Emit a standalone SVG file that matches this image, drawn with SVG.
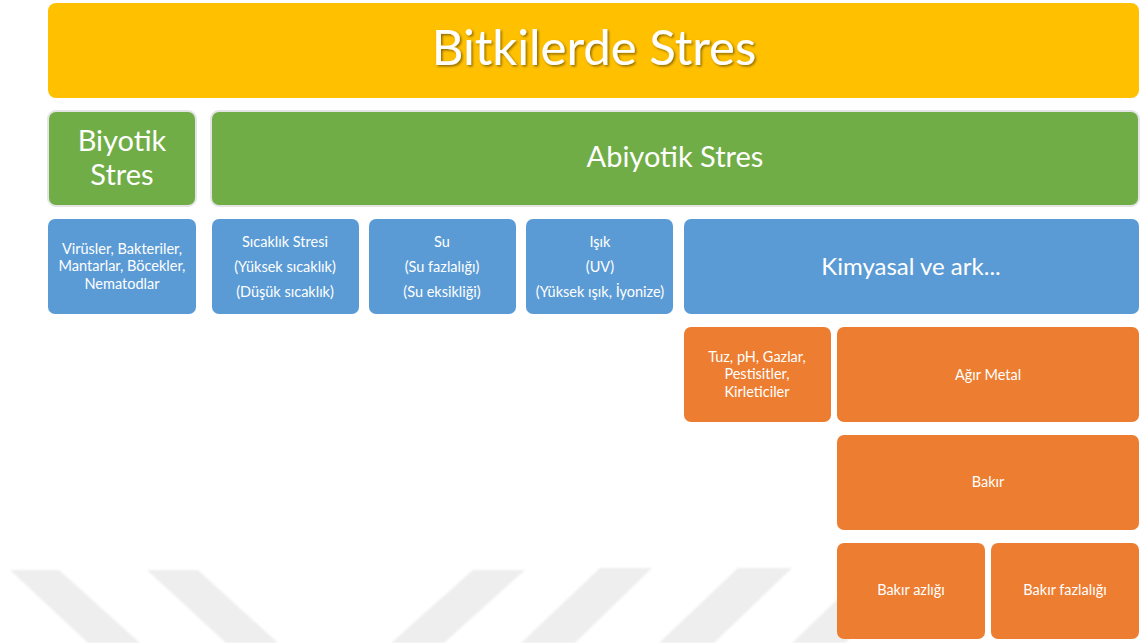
<svg xmlns="http://www.w3.org/2000/svg" width="1142" height="643" viewBox="0 0 1142 643">
<defs>
<style>
text{font-family:Lato,"Open Sans","Liberation Sans",sans-serif;fill:#fff;text-anchor:middle}
.y{fill:#FFC000}
.g{fill:#70AD47;stroke:#e4e4e4;stroke-width:2}
.b{fill:#5B9BD5}
.o{fill:#ED7D31}
.wm{fill:#eeeeee}
.s13{font-size:14.5px}
</style>
<filter id="sh" x="-10%" y="-20%" width="120%" height="150%">
<feDropShadow dx="1.5" dy="1.5" stdDeviation="1" flood-color="#000" flood-opacity="0.45"/>
</filter>
<filter id="blur"><feGaussianBlur stdDeviation="0.8"/></filter>
</defs>
<rect width="1142" height="643" fill="#fff"/>
<g id="watermark" filter="url(#blur)">
<polygon class="wm" points="10,570 59,570 140,643 88,643"/>
<polygon class="wm" points="147,570 198,570 278,643 226,643"/>
<polygon class="wm" points="473,570 525,570 444,643 391,643"/>
<polygon class="wm" points="600,568 652,568 575,643 521,643"/>
<polygon class="wm" points="738,568 792,568 714,643 659,643"/>
<polygon class="wm" points="870,568 924,568 845,643 792,643"/>
</g>
<g id="connectors"/>
<g id="title"><rect class="y" x="48" y="3" width="1091" height="95" rx="8"/><text x="594" y="65" font-size="49" filter="url(#sh)">Bitkilerde Stres</text></g>
<g id="biyotik"><rect class="g" x="48" y="111" width="148" height="95" rx="8"/><text x="122" y="151" font-size="29">Biyotik</text><text x="122" y="185" font-size="29">Stres</text></g>
<g id="abiyotik"><rect class="g" x="211" y="111" width="928" height="95" rx="8"/><text x="675" y="167" font-size="29">Abiyotik Stres</text></g>
<g id="virusler"><rect class="b" x="48" y="219" width="148" height="95" rx="7"/><text class="s13" x="122" y="254">Virüsler, Bakteriler,</text><text class="s13" x="122" y="271">Mantarlar, Böcekler,</text><text class="s13" x="122" y="289">Nematodlar</text></g>
<g id="sicaklik"><rect class="b" x="212" y="219" width="147" height="95" rx="7"/><text class="s13" x="285" y="247">Sıcaklık Stresi</text><text class="s13" x="285" y="272">(Yüksek sıcaklık)</text><text class="s13" x="285" y="297">(Düşük sıcaklık)</text></g>
<g id="su"><rect class="b" x="369" y="219" width="147" height="95" rx="7"/><text class="s13" x="442" y="247">Su</text><text class="s13" x="442" y="272">(Su fazlalığı)</text><text class="s13" x="442" y="297">(Su eksikliği)</text></g>
<g id="isik"><rect class="b" x="526" y="219" width="147" height="95" rx="7"/><text class="s13" x="600" y="247">Işık</text><text class="s13" x="600" y="272">(UV)</text><text class="s13" x="600" y="297">(Yüksek ışık, İyonize)</text></g>
<g id="kimyasal"><rect class="b" x="684" y="219" width="455" height="95" rx="7"/><text x="911" y="275" font-size="24">Kimyasal ve ark...</text></g>
<g id="tuz"><rect class="o" x="684" y="327" width="147" height="95" rx="7"/><text class="s13" x="757" y="362">Tuz, pH, Gazlar,</text><text class="s13" x="757" y="379">Pestisitler,</text><text class="s13" x="757" y="397">Kirleticiler</text></g>
<g id="agirmetal"><rect class="o" x="837" y="327" width="302" height="95" rx="7"/><text class="s13" x="988" y="380">Ağır Metal</text></g>
<g id="bakir"><rect class="o" x="837" y="435" width="302" height="95" rx="7"/><text class="s13" x="988" y="487">Bakır</text></g>
<g id="bakirazligi"><rect class="o" x="837" y="543" width="148" height="96" rx="7"/><text class="s13" x="911" y="595">Bakır azlığı</text></g>
<g id="bakirfazlaligi"><rect class="o" x="991" y="543" width="148" height="96" rx="7"/><text class="s13" x="1065" y="595">Bakır fazlalığı</text></g>
</svg>
